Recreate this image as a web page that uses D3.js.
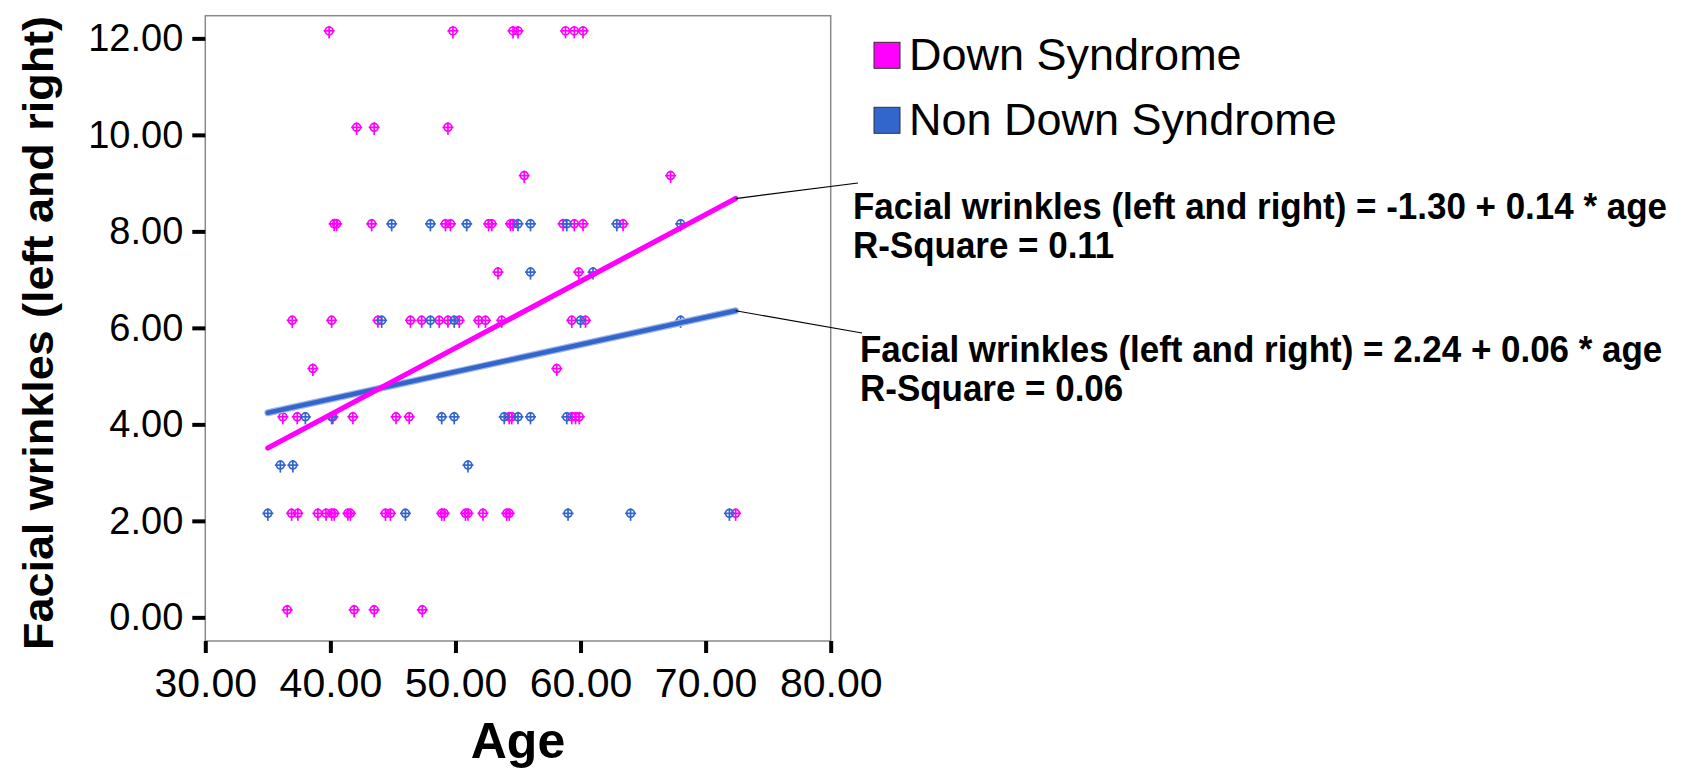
<!DOCTYPE html>
<html>
<head>
<meta charset="utf-8">
<script src="https://cdn.jsdelivr.net/npm/d3@7"></script>
<style>
  html, body { margin: 0; padding: 0; background: #fff; }
  svg { display: block; }
  text { font-family: "Liberation Sans", Arial, Helvetica, sans-serif; fill: #000; }
</style>
</head>
<body>
<svg id="chart" width="1686" height="770"></svg>
<script>
// ---------- data ----------
const seriesNames = ["Down Syndrome", "Non Down Syndrome"];
const seriesColors = ["#ff00ff", "#3366cc"];

// [age, facial wrinkles]
const downSyndrome = [
  [39.9,12],[49.8,12],[54.6,12],[55.0,12],[58.8,12],[59.5,12],[60.2,12],
  [42.1,10],[43.5,10],[49.4,10],
  [55.5,9],[67.2,9],
  [40.3,8],[40.5,8],[43.3,8],[49.2,8],[49.6,8],[52.65,8],[52.9,8],[54.4,8],[54.6,8],[58.6,8],[59.5,8],[60.2,8],[63.4,8],
  [53.4,7],[59.85,7],
  [36.95,6],[40.1,6],[43.8,6],[46.4,6],[47.3,6],[48.7,6],[49.4,6],[50.3,6],[51.85,6],[52.4,6],[53.7,6],[59.3,6],[60.4,6],
  [38.6,5],[58.1,5],
  [36.2,4],[37.35,4],[40.2,4],[41.8,4],[45.25,4],[46.3,4],[54.3,4],[54.5,4],[59.3,4],[59.6,4],[59.9,4],
  [36.9,2],[37.4,2],[39.0,2],[39.65,2],[40.1,2],[40.3,2],[41.4,2],[41.6,2],[44.4,2],[44.8,2],[48.9,2],[49.1,2],[50.8,2],[51.0,2],[52.2,2],[54.1,2],[54.3,2],[72.4,2],
  [36.55,0],[41.9,0],[43.5,0],[47.35,0]
];
const nonDownSyndrome = [
  [44.9,8],[48.0,8],[50.9,8],[55.0,8],[56.0,8],[58.9,8],[62.9,8],[68.0,8],
  [56.0,7],[61.0,7],
  [44.1,6],[48.0,6],[49.9,6],[60.0,6],[68.0,6],
  [38.0,4],[40.1,4],[48.9,4],[49.9,4],[53.9,4],[55.0,4],[56.0,4],[58.9,4],
  [36.0,3],[37.0,3],[51.0,3],
  [35.0,2],[46.0,2],[59.0,2],[64.0,2],[71.9,2]
];

// fit line end points [age, wrinkles]
const downFitLine = [[35.0, 3.51], [72.4, 8.68]];
const nonDownFitLine = [[35.0, 4.24], [72.4, 6.355]];

const equationLines = [
  ["Facial wrinkles (left and right) = -1.30 + 0.14 * age", "R-Square = 0.11"],
  ["Facial wrinkles (left and right) = 2.24 + 0.06 * age", "R-Square = 0.06"]
];

const xTicks = [30, 40, 50, 60, 70, 80];
const yTicks = [0, 2, 4, 6, 8, 10, 12];
const xTitle = "Age";
const yTitle = "Facial wrinkles (left and right)";

// ---------- layout ----------
const plot = { left: 205.3, right: 830.7, top: 15.7, bottom: 641 };
const svg = d3.select("#chart");
svg.append("rect").attr("width", 1686).attr("height", 770).attr("fill", "#fff");

const x = d3.scaleLinear().domain([30, 80]).range([plot.left, plot.right]);
const y = d3.scaleLinear().domain([-0.49, 12.47]).range([plot.bottom, plot.top]);
const fmt = d3.format(".2f");

// frame
svg.append("rect")
  .attr("x", plot.left).attr("y", plot.top)
  .attr("width", plot.right - plot.left).attr("height", plot.bottom - plot.top)
  .attr("fill", "none").attr("stroke", "#8a8a8a").attr("stroke-width", 1.5);

// axes
const yAxis = svg.append("g")
  .attr("transform", `translate(${plot.left},0)`)
  .call(d3.axisLeft(y).tickValues(yTicks).tickSize(13).tickPadding(9).tickFormat(fmt));
const xAxis = svg.append("g")
  .attr("transform", `translate(0,${plot.bottom})`)
  .call(d3.axisBottom(x).tickValues(xTicks).tickSize(12).tickPadding(14.6).tickFormat(fmt));
[yAxis, xAxis].forEach(g => {
  g.select(".domain").remove();
  g.selectAll(".tick line").attr("stroke", "#000").attr("stroke-width", 4);
  g.selectAll(".tick text").attr("fill", "#000")
    .style("font-family", '"Liberation Sans", Arial, sans-serif');
});
yAxis.selectAll(".tick text").style("font-size", "38px");
xAxis.selectAll(".tick text").style("font-size", "41px");

// axis titles
svg.append("text")
  .attr("x", (plot.left + plot.right) / 2).attr("y", 758)
  .attr("text-anchor", "middle")
  .style("font-size", "50px").style("font-weight", "bold")
  .text(xTitle);
svg.append("text")
  .attr("transform", "translate(53,333) rotate(-90)")
  .attr("text-anchor", "middle")
  .attr("textLength", 634).attr("lengthAdjust", "spacingAndGlyphs")
  .style("font-size", "42px").style("font-weight", "bold")
  .text(yTitle);

// markers
function drawMarkers(data, color) {
  const g = svg.append("g").attr("stroke", color).attr("fill", "none").attr("stroke-width", 1.7);
  const m = g.selectAll("g.m").data(data).join("g")
    .attr("class", "m")
    .attr("transform", d => `translate(${x(d[0])},${y(d[1])})`);
  m.append("circle").attr("cx", 0).attr("cy", -7.5).attr("r", 3.9);
  m.append("line").attr("x1", -5.5).attr("x2", 5.5).attr("y1", -7.5).attr("y2", -7.5);
  m.append("line").attr("x1", 0).attr("x2", 0).attr("y1", -12.5).attr("y2", 0);
}
drawMarkers(downSyndrome, seriesColors[0]);
drawMarkers(nonDownSyndrome, seriesColors[1]);

// fit lines
const line = d3.line().x(d => x(d[0])).y(d => y(d[1]));
svg.append("path").datum(nonDownFitLine).attr("d", line)
  .attr("stroke", "#9fb6e6").attr("stroke-width", 7).attr("fill", "none").attr("stroke-linecap", "round");
svg.append("path").datum(nonDownFitLine).attr("d", line)
  .attr("stroke", seriesColors[1]).attr("stroke-width", 4.6).attr("fill", "none").attr("stroke-linecap", "round");
svg.append("path").datum(downFitLine).attr("d", line)
  .attr("stroke", seriesColors[0]).attr("stroke-width", 5.2).attr("fill", "none").attr("stroke-linecap", "round");

// leader lines + equations
const labelAnchors = [
  { lx: 858, ly: 183, tx: 853, ty: [219, 258] },
  { lx: 862, ly: 333, tx: 860, ty: [362, 401] }
];
[downFitLine, nonDownFitLine].forEach((fl, i) => {
  const end = fl[fl.length - 1];
  const a = labelAnchors[i];
  svg.append("line")
    .attr("x1", x(end[0])).attr("y1", y(end[1]))
    .attr("x2", a.lx).attr("y2", a.ly)
    .attr("stroke", "#000").attr("stroke-width", 1.2);
  equationLines[i].forEach((t, j) => {
    svg.append("text")
      .attr("transform", `translate(${a.tx},${a.ty[j]}) scale(0.945,1)`)
      .style("font-size", "37px").style("font-weight", "bold")
      .text(t);
  });
});

// legend
const legend = svg.append("g");
seriesNames.forEach((name, i) => {
  const yy = 42.3 + i * 65;
  legend.append("rect").attr("x", 874).attr("y", yy).attr("width", 26).attr("height", 26)
    .attr("fill", seriesColors[i]).attr("stroke", "#333").attr("stroke-width", 1);
  legend.append("text").attr("x", 909).attr("y", 70 + i * 65)
    .style("font-size", "45px").text(name);
});
</script>
</body>
</html>
